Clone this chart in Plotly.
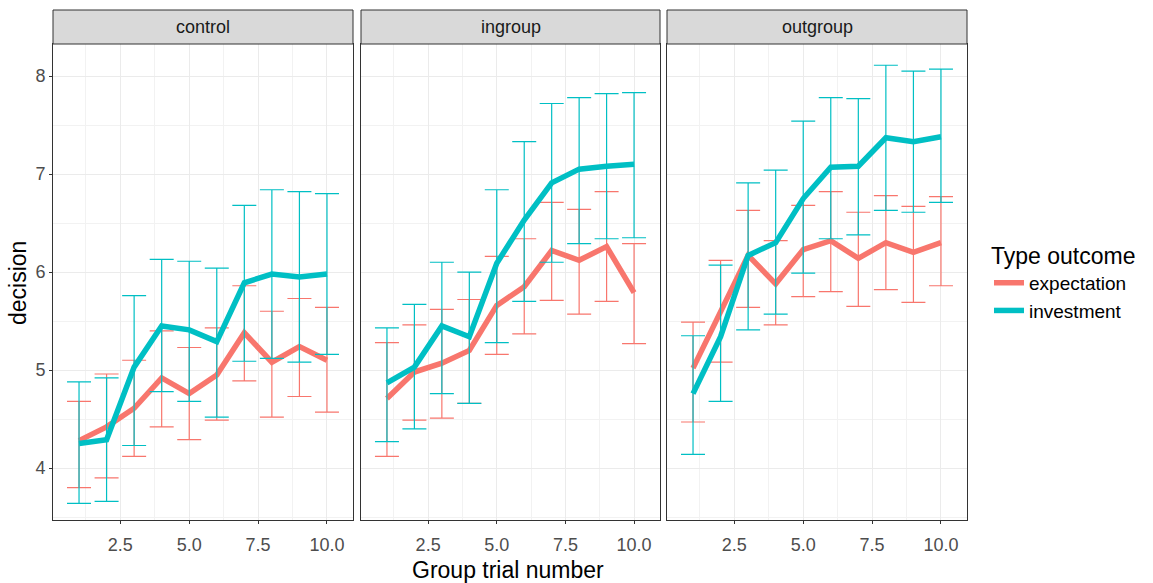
import plotly.graph_objects as go

trial = [1, 2, 3, 4, 5, 6, 7, 8, 9, 10]
panels = ["control", "ingroup", "outgroup"]

# expectation (red)
exp_mean = {
    "control":  [4.28, 4.42, 4.61, 4.92, 4.76, 4.95, 5.38, 5.08, 5.24, 5.10],
    "ingroup":  [4.71, 4.98, 5.07, 5.20, 5.66, 5.85, 6.22, 6.12, 6.26, 5.79],
    "outgroup": [5.02, 5.61, 6.17, 5.88, 6.23, 6.32, 6.14, 6.30, 6.20, 6.30],
}
exp_upper = {
    "control":  [4.68, 4.96, 5.10, 5.40, 5.23, 5.43, 5.86, 5.60, 5.73, 5.64],
    "ingroup":  [5.28, 5.46, 5.62, 5.72, 6.16, 6.34, 6.71, 6.64, 6.82, 6.29],
    "outgroup": [5.49, 6.12, 6.63, 6.32, 6.68, 6.82, 6.61, 6.78, 6.67, 6.77],
}
exp_lower = {
    "control":  [3.80, 3.90, 4.12, 4.42, 4.29, 4.49, 4.89, 4.52, 4.73, 4.57],
    "ingroup":  [4.12, 4.49, 4.51, 4.66, 5.16, 5.37, 5.71, 5.57, 5.70, 5.27],
    "outgroup": [4.47, 5.08, 5.64, 5.46, 5.75, 5.80, 5.65, 5.82, 5.69, 5.86],
}
# investment (teal)
inv_mean = {
    "control":  [4.25, 4.29, 5.03, 5.45, 5.41, 5.29, 5.89, 5.98, 5.95, 5.98],
    "ingroup":  [4.87, 5.03, 5.45, 5.34, 6.09, 6.53, 6.91, 7.05, 7.08, 7.10],
    "outgroup": [4.76, 5.34, 6.17, 6.30, 6.75, 7.07, 7.08, 7.37, 7.33, 7.38],
}
inv_upper = {
    "control":  [4.88, 4.92, 5.76, 6.13, 6.11, 6.04, 6.68, 6.84, 6.82, 6.80],
    "ingroup":  [5.43, 5.67, 6.10, 6.00, 6.84, 7.33, 7.72, 7.78, 7.82, 7.83],
    "outgroup": [5.35, 6.07, 6.91, 7.04, 7.54, 7.78, 7.77, 8.11, 8.05, 8.07],
}
inv_lower = {
    "control":  [3.64, 3.66, 4.23, 4.78, 4.68, 4.52, 5.09, 5.12, 5.08, 5.16],
    "ingroup":  [4.27, 4.40, 4.76, 4.66, 5.28, 5.70, 6.10, 6.29, 6.34, 6.35],
    "outgroup": [4.14, 4.68, 5.41, 5.57, 5.99, 6.34, 6.38, 6.63, 6.61, 6.71],
}

RED = "#F8766D"
TEAL = "#00BFC4"
FONT = "Liberation Sans, Arial, sans-serif"

W, H = 1153, 583
px_x = [(53, 353), (361, 660), (667, 967)]
top_px, bot_px = 44, 520

fig = go.Figure()

series = [
    ("expectation", RED, exp_mean, exp_upper, exp_lower),
    ("investment", TEAL, inv_mean, inv_upper, inv_lower),
]

for si, (name, col, mean, up, lo) in enumerate(series):
    for pi, p in enumerate(panels):
        ax = "" if pi == 0 else str(pi + 1)
        m = mean[p]
        plus = [u - v for u, v in zip(up[p], m)]
        minus = [v - l for v, l in zip(m, lo[p])]
        fig.add_trace(go.Scatter(
            x=trial, y=m, mode="lines", name=name,
            line=dict(color=col, width=5.5),
            error_y=dict(type="data", array=plus, arrayminus=minus,
                         color=col, thickness=1.2, width=12),
            xaxis="x" + ax, yaxis="y" + ax,
            showlegend=(pi == 0), legendgroup=name,
        ))

ydom = [1 - bot_px / H, 1 - top_px / H]
common_x = dict(range=[0.055, 10.945], tick0=0, dtick=2.5, tickformat=".1f",
                showgrid=True, gridcolor="#EBEBEB", gridwidth=1,
                minor=dict(showgrid=True, dtick=1.25, tick0=0, gridcolor="#F2F2F2", gridwidth=1),
                showline=True, mirror=True, linecolor="#333333", linewidth=1,
                ticks="outside", ticklen=3, tickcolor="#333333",
                ticklabelstandoff=5,
                tickfont=dict(family=FONT, size=18, color="#4D4D4D"),
                zeroline=False)
common_y = dict(range=[3.47, 8.327], dtick=1, domain=ydom,
                showgrid=True, gridcolor="#EBEBEB", gridwidth=1,
                minor=dict(showgrid=True, dtick=0.5, gridcolor="#F2F2F2", gridwidth=1),
                showline=True, mirror=True, linecolor="#333333", linewidth=1,
                ticks="outside", ticklen=3, tickcolor="#333333",
                tickfont=dict(family=FONT, size=18, color="#4D4D4D"),
                zeroline=False)

layout = dict(
    width=W, height=H,
    margin=dict(l=0, r=0, t=0, b=0),
    paper_bgcolor="white", plot_bgcolor="white",
    showlegend=True,
    legend=dict(x=989 / W, y=1 - 234 / H, xanchor="left", yanchor="top",
                title=dict(text="Type outcome", font=dict(family=FONT, size=23, color="black")),
                font=dict(family=FONT, size=19, color="black"),
                itemwidth=30, tracegroupgap=0, bgcolor="rgba(0,0,0,0)"),
)
for pi in range(3):
    ax = "" if pi == 0 else str(pi + 1)
    xd = [px_x[pi][0] / W, px_x[pi][1] / W]
    layout["xaxis" + ax] = dict(common_x, domain=xd, anchor="y" + ax)
    yd = dict(common_y, anchor="x" + ax)
    if pi > 0:
        yd["showticklabels"] = False
        yd["ticks"] = ""
        yd["matches"] = "y"
    layout["yaxis" + ax] = yd

fig.update_layout(**layout)

shapes = []
annots = []
for pi, p in enumerate(panels):
    x0, x1 = px_x[pi][0] / W, px_x[pi][1] / W
    shapes.append(dict(type="rect", xref="paper", yref="paper",
                       x0=x0, x1=x1, y0=1 - top_px / H, y1=1 - 10 / H,
                       fillcolor="#D9D9D9", line=dict(color="#333333", width=1)))
    annots.append(dict(text=p, xref="paper", yref="paper", x=(x0 + x1) / 2, y=1 - 27 / H,
                       showarrow=False, font=dict(family=FONT, size=18, color="#1A1A1A"),
                       xanchor="center", yanchor="middle"))
annots.append(dict(text="Group trial number", xref="paper", yref="paper",
                   x=508 / W, y=1 - 570 / H, showarrow=False,
                   font=dict(family=FONT, size=23, color="black"),
                   xanchor="center", yanchor="middle"))
annots.append(dict(text="decision", xref="paper", yref="paper",
                   x=18 / W, y=1 - 283 / H, showarrow=False, textangle=-90,
                   font=dict(family=FONT, size=23, color="black"),
                   xanchor="center", yanchor="middle"))
fig.update_layout(shapes=shapes, annotations=annots)

fig.write_html("out.html")
